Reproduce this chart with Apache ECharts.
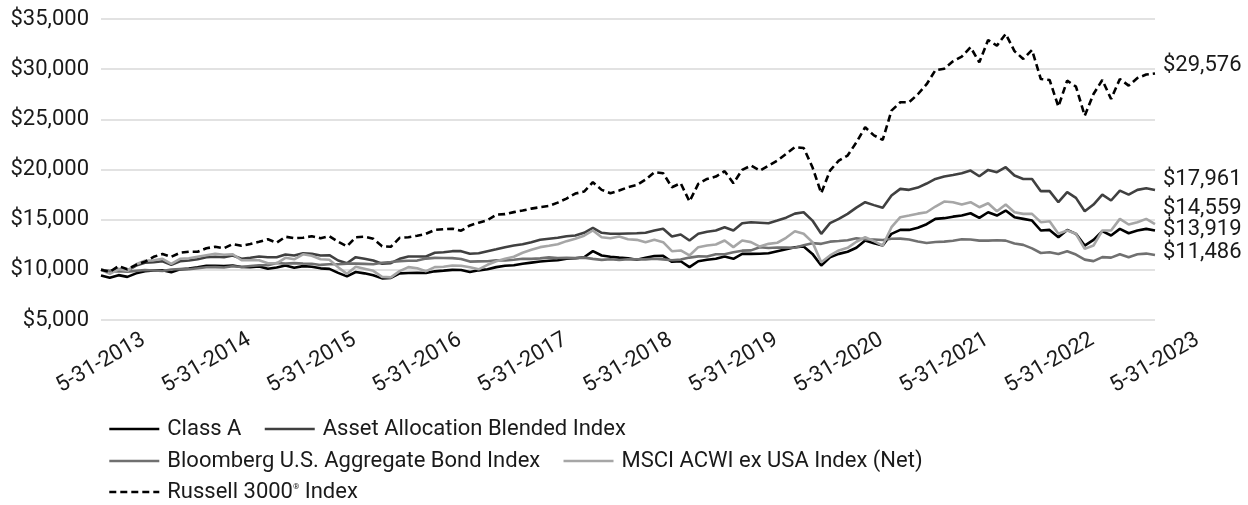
<!DOCTYPE html>
<html>
<head>
<meta charset="utf-8">
<script src="https://cdn.jsdelivr.net/npm/echarts@6/dist/echarts.min.js"></script>
<style>
  html, body { margin: 0; padding: 0; background: #fff; }
  #chart { width: 1248px; height: 505px; }
</style>
</head>
<body>
<div id="chart"></div>
<script>
// month-end dates 5-31-2013 .. 5-31-2023
const dates = [];
for (let i = 0; i <= 120; i++) {
    const d = new Date(Date.UTC(2013, 5 + i, 0));
    dates.push((d.getUTCMonth() + 1) + '-' + d.getUTCDate() + '-' + d.getUTCFullYear());
}

const classA = [
    9425, 9200, 9470, 9300, 9650, 9870, 9930, 9950, 9750, 10050, 10120, 10250,
    10400, 10400, 10380, 10430, 10280, 10270, 10330, 10100, 10230, 10430, 10200, 10370,
    10300, 10150, 10100, 9700, 9350, 9780, 9650, 9450, 9150, 9200, 9650, 9680,
    9700, 9680, 9850, 9920, 10000, 9980, 9780, 9950, 10050, 10270, 10400, 10450,
    10600, 10720, 10830, 10900, 10950, 11100, 11150, 11250, 11860, 11430, 11300, 11220,
    11150, 11000, 11200, 11380, 11390, 10800, 10860, 10270, 10860, 11000, 11100, 11330,
    11100, 11590, 11590, 11600, 11660, 11860, 12050, 12250, 12320, 11590, 10430, 11260,
    11590, 11800, 12200, 12920, 12650, 12420, 13590, 13980, 13980, 14200, 14550, 15080,
    15150, 15300, 15410, 15640, 15180, 15740, 15410, 15910, 15250, 15080, 14910, 13920,
    13980, 13250, 13980, 13590, 12420, 12990, 13850, 13420, 14080, 13650, 13920, 14080,
    13919
];
const blended = [
    10000, 9870, 10070, 9930, 10430, 10700, 10760, 10850, 10500, 10860, 10930, 11060,
    11260, 11300, 11260, 11430, 11100, 11200, 11330, 11260, 11260, 11530, 11430, 11660,
    11590, 11430, 11460, 10930, 10660, 11260, 11100, 10930, 10600, 10660, 11100, 11330,
    11330, 11330, 11700, 11760, 11860, 11860, 11600, 11650, 11860, 12050, 12260, 12420,
    12550, 12760, 12990, 13100, 13190, 13350, 13420, 13690, 14180, 13690, 13600, 13590,
    13620, 13650, 13700, 13920, 14100, 13320, 13520, 12920, 13590, 13800, 13920, 14250,
    13920, 14650, 14750, 14700, 14650, 14910, 15200, 15600, 15740, 14910, 13590, 14650,
    15080, 15580, 16200, 16740, 16450, 16180, 17400, 18070, 17970, 18200, 18600, 19060,
    19300, 19450, 19630, 19890, 19330, 19960, 19730, 20230, 19400, 19060, 19060, 17840,
    17840, 16740, 17740, 17170, 15840, 16510, 17500, 16910, 17900, 17500, 17970, 18130,
    17961
];
const bondIndex = [
    10000, 9845, 9860, 9810, 9900, 9980, 9940, 9880, 10030, 10080, 10060, 10150,
    10260, 10270, 10240, 10350, 10280, 10380, 10450, 10460, 10680, 10620, 10670, 10630,
    10600, 10490, 10560, 10550, 10620, 10620, 10590, 10560, 10700, 10780, 10870, 10910,
    10920, 11120, 11190, 11180, 11170, 11080, 10820, 10840, 10860, 10940, 10930, 11010,
    11100, 11090, 11140, 11240, 11180, 11190, 11170, 11220, 11090, 10990, 11060, 10980,
    11050, 11040, 11040, 11110, 11040, 10950, 11020, 11220, 11340, 11330, 11550, 11550,
    11760, 11910, 11940, 12250, 12180, 12220, 12210, 12200, 12440, 12660, 12590, 12810,
    12870, 12950, 13140, 13040, 13030, 12970, 13100, 13110, 13020, 12830, 12670, 12770,
    12810, 12900, 13040, 13020, 12910, 12910, 12950, 12910, 12630, 12490, 12140, 11680,
    11750, 11570, 11850, 11520, 11020, 10870, 11270, 11220, 11560, 11260, 11550, 11620,
    11486
];
const msciExUsa = [
    10000, 9600, 10050, 9900, 10550, 10900, 10950, 11100, 10600, 11100, 11150, 11300,
    11450, 11600, 11500, 11550, 10950, 10950, 10950, 10650, 10650, 11200, 11050, 11550,
    11400, 11050, 11000, 10250, 9600, 10300, 10100, 9900, 9300, 9250, 9870, 10270,
    10150, 9870, 10270, 10300, 10430, 10400, 10250, 10050, 10500, 10850, 11100, 11300,
    11700, 12000, 12260, 12400, 12550, 12860, 13100, 13400, 13920, 13250, 13150, 13320,
    13050, 12990, 12760, 12990, 12760, 11860, 11930, 11430, 12260, 12420, 12520, 12920,
    12260, 12920, 12760, 12320, 12590, 12700, 13190, 13850, 13590, 12760, 10760, 11430,
    11930, 12190, 12800, 13250, 12860, 12420, 14250, 15250, 15410, 15600, 15740, 16310,
    16810, 16740, 16510, 16740, 16240, 16640, 15840, 16510, 15740, 15580, 15580, 14750,
    14850, 13590, 13920, 13590, 12090, 12420, 13920, 13920, 15080, 14520, 14750, 15080,
    14559
];
const russell3000 = [
    10000, 9800, 10380, 10050, 10500, 10810, 11300, 11580, 11300, 11700, 11800, 11800,
    12150, 12300, 12150, 12570, 12400, 12570, 12800, 13040, 12700, 13300, 13150, 13200,
    13350, 13150, 13350, 12800, 12350, 13250, 13300, 13100, 12350, 12300, 13190, 13250,
    13400, 13590, 13980, 14050, 14100, 13900, 14420, 14700, 14950, 15500, 15550, 15750,
    15910, 16100, 16250, 16370, 16700, 17100, 17600, 17800, 18730, 17970, 17640, 17900,
    18230, 18450, 19000, 19730, 19630, 18230, 18630, 16810, 18560, 19060, 19300, 19830,
    18630, 19960, 20390, 19890, 20390, 20890, 21550, 22220, 22150, 20230, 17640, 19890,
    20890, 21390, 22700, 24210, 23400, 22950, 25870, 26700, 26700, 27500, 28500, 29900,
    30050, 30780, 31250, 32180, 30690, 32910, 32340, 33510, 31800, 31020, 31910, 29020,
    28920, 26270, 28860, 28260, 25370, 27530, 28920, 27030, 29020, 28360, 29120, 29460,
    29576
];

const seriesNames = [
    'Class A',
    'Asset Allocation Blended Index',
    'Bloomberg U.S. Aggregate Bond Index',
    'MSCI ACWI ex USA Index (Net)',
    'Russell 3000® Index'
];

const FONT = 'Roboto, "Noto Sans", sans-serif';
const money = (v) => '$' + v.toLocaleString('en-US');

const makeLine = (name, data, color, dy, dashed) => ({
    name,
    type: 'line',
    data,
    symbol: 'none',
    lineStyle: { color, width: 2.6, type: dashed ? [7, 4] : 'solid' },
    itemStyle: { color },
    endLabel: {
        show: true,
        formatter: (p) => money(p.value),
        offset: [0, dy],
        fontFamily: FONT,
        fontSize: 22,
        color: '#1a1a1a'
    }
});

const legendBase = {
    left: 103,
    orient: 'horizontal',
    itemWidth: 50,
    itemHeight: 14,
    itemGap: 22,
    itemStyle: { opacity: 0 },
    lineStyle: { width: 2.6 },
    textStyle: {
        fontFamily: FONT,
        fontSize: 22,
        color: '#1a1a1a',
        padding: [0, 0, 0, 3],
        rich: { sup: { fontFamily: FONT, fontSize: 8, padding: [0, 0, 10, 0], color: '#1a1a1a' } }
    },
    formatter: (n) => n.replace('®', '{sup|®}')
};

const chart = echarts.init(document.getElementById('chart'));
chart.setOption({
    animation: false,
    backgroundColor: '#fff',
    grid: { left: 101, right: 93, top: 19, bottom: 185, containLabel: false },
    legend: [
        Object.assign({}, legendBase, { top: 413, data: [seriesNames[0], seriesNames[1]] }),
        Object.assign({}, legendBase, { top: 445, data: [seriesNames[2], seriesNames[3]] }),
        Object.assign({}, legendBase, { top: 476, data: [seriesNames[4]] })
    ],
    xAxis: {
        type: 'category',
        data: dates,
        boundaryGap: false,
        axisLine: { show: false },
        axisTick: { show: false },
        axisLabel: {
            interval: 11,
            rotate: 30,
            align: 'center',
            verticalAlign: 'middle',
            margin: 43,
            fontFamily: FONT,
            fontSize: 22,
            color: '#1a1a1a'
        }
    },
    yAxis: {
        type: 'value',
        min: 5000,
        max: 35000,
        interval: 5000,
        axisLine: { show: false },
        axisTick: { show: false },
        splitLine: { lineStyle: { color: '#d9d9d9', width: 1.5 } },
        axisLabel: {
            margin: 12,
            fontFamily: FONT,
            fontSize: 22,
            color: '#1a1a1a',
            formatter: money
        }
    },
    series: [
        makeLine(seriesNames[0], classA, '#000000', -1, false),
        makeLine(seriesNames[1], blended, '#404040', -10, false),
        makeLine(seriesNames[2], bondIndex, '#707070', -2, false),
        makeLine(seriesNames[3], msciExUsa, '#a6a6a6', -16, false),
        makeLine(seriesNames[4], russell3000, '#000000', -8, true)
    ]
});
</script>
</body>
</html>
